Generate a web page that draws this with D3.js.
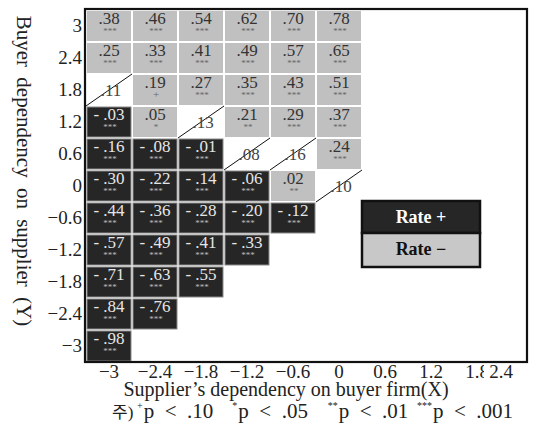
<!DOCTYPE html>
<html>
<head>
<meta charset="utf-8">
<script src="https://cdn.jsdelivr.net/npm/d3@7"></script>
<style>
  body { margin: 0; background: #fff; }
  text { font-family: "Liberation Serif", "Noto Sans CJK KR", serif; }
</style>
</head>
<body>
<script>
// categories
var xCats = [-3, -2.4, -1.8, -1.2, -0.6, 0];
var yCats = [3, 2.4, 1.8, 1.2, 0.6, 0, -0.6, -1.2, -1.8, -2.4, -3];
var xTicks = [-3, -2.4, -1.8, -1.2, -0.6, 0, 0.6, 1.2, 1.8, 2.4];

// rate per row (Y), one value per X column
var rates = [
  [.38, .46, .54, .62, .70, .78],
  [.25, .33, .41, .49, .57, .65],
  [.11, .19, .27, .35, .43, .51],
  [-.03, .05, .13, .21, .29, .37],
  [-.16, -.08, -.01, .08, .16, .24],
  [-.30, -.22, -.14, -.06, .02, .10],
  [-.44, -.36, -.28, -.20, -.12],
  [-.57, -.49, -.41, -.33],
  [-.71, -.63, -.55],
  [-.84, -.76],
  [-.98]
];
// significance marks ("" = not significant)
var stars = [
  ["***", "***", "***", "***", "***", "***"],
  ["***", "***", "***", "***", "***", "***"],
  ["", "+", "***", "***", "***", "***"],
  ["***", "*", "", "**", "***", "***"],
  ["***", "***", "***", "", "", "***"],
  ["***", "***", "***", "***", "**", ""],
  ["***", "***", "***", "***", "***"],
  ["***", "***", "***", "***"],
  ["***", "***", "***"],
  ["***", "***"],
  ["***"]
];
var legendItems = ["Rate +", "Rate \u2212"];
var noteMarks = ["+", "*", "**", "***"];
var noteTexts = ["p < .10", "p < .05", "p < .01", "p < .001"];

var W = 536, H = 424;
var frame = {left: 86, right: 527, top: 10, bottom: 362};

var svg = d3.select("body").append("svg")
  .attr("width", W).attr("height", H);

var step = (frame.bottom - frame.top) / yCats.length;   // row height
var y = d3.scaleLinear()
  .domain([3, -3])
  .range([frame.top + step / 2, frame.bottom - step / 2]);
var x = d3.scaleLinear()
  .domain([-3, 0])
  .range([109, 339]);
var cw = x(-2.4) - x(-3);   // column width

// flatten cells
var cells = [];
rates.forEach(function (row, i) {
  row.forEach(function (v, j) {
    cells.push({x: xCats[j], y: yCats[i], v: v, s: stars[i][j]});
  });
});

function fmt(v) {
  var s = d3.format(".2f")(Math.abs(v)).replace(/^0/, "");
  return v < 0 ? "- " + s : s;
}

var g = svg.append("g");
var cell = g.selectAll("g.cell").data(cells).enter().append("g").attr("class", "cell");

cell.append("rect")
  .attr("x", function (d) { return x(d.x) - cw / 2 + 1; })
  .attr("y", function (d) { return y(d.y) - step / 2 + 1; })
  .attr("width", cw - 2)
  .attr("height", step - 2)
  .attr("fill", function (d) { return d.s === "" ? "#fff" : (d.v > 0 ? "#c0c0c0" : "#262626"); })
  .attr("stroke", function (d) { return d.s !== "" && d.v <= 0 ? "#8a8a8a" : "none"; })
  .attr("stroke-width", 1);

// diagonal for non-significant cells
cell.filter(function (d) { return d.s === ""; })
  .append("line")
  .attr("x1", function (d) { return x(d.x) - cw / 2; })
  .attr("y1", function (d) { return y(d.y) + step / 2; })
  .attr("x2", function (d) { return x(d.x) + cw / 2; })
  .attr("y2", function (d) { return y(d.y) - step / 2; })
  .attr("stroke", "#111").attr("stroke-width", 1);

cell.append("text")
  .attr("x", function (d) { return x(d.x) + (d.s === "" ? 2 : 0); })
  .attr("y", function (d) { return d.s === "" ? y(d.y) + 6 : y(d.y) - 2; })
  .attr("text-anchor", "middle")
  .attr("font-size", 17)
  .attr("fill", function (d) { return d.s === "" ? "#444" : (d.v > 0 ? "#333" : "#e6e6e6"); })
  .text(function (d) { return fmt(d.v); });

cell.filter(function (d) { return d.s !== ""; })
  .append("text")
  .attr("x", function (d) { return x(d.x) + 1; })
  .attr("y", function (d) { return y(d.y) + 8; })
  .attr("text-anchor", "middle")
  .attr("font-size", function (d) { return d.s === "+" ? 11 : 9; })
  .attr("fill", function (d) { return d.v > 0 ? "#666" : "#bbb"; })
  .text(function (d) { return d.s; });

// frame
svg.append("rect")
  .attr("x", frame.left - 1).attr("y", frame.top - 1)
  .attr("width", frame.right - frame.left + 1)
  .attr("height", frame.bottom - frame.top + 1)
  .attr("fill", "none").attr("stroke", "#111").attr("stroke-width", 2.2);

// y tick labels
svg.selectAll("text.ytick").data(yCats).enter().append("text")
  .attr("class", "ytick")
  .attr("x", frame.left - 4)
  .attr("y", function (d) { return y(d) + 6; })
  .attr("text-anchor", "end")
  .attr("font-size", 19)
  .attr("fill", "#222")
  .text(function (d) { return d3.format("")(d); });

// x tick labels (last one pushed inside frame, with white backing)
var xt = svg.selectAll("g.xtick").data(xTicks).enter().append("g")
  .attr("class", "xtick")
  .attr("transform", function (d) {
    return "translate(" + Math.min(x(d), frame.right - 26) + "," + (frame.bottom + 16) + ")";
  });
xt.append("rect")
  .attr("x", -17).attr("y", -14).attr("width", 34).attr("height", 18)
  .attr("fill", "#fff");
xt.append("text")
  .attr("text-anchor", "middle")
  .attr("font-size", 19)
  .attr("fill", "#222")
  .text(function (d) { return d3.format("")(d); });

// axis titles
svg.append("text")
  .attr("x", 286).attr("y", 396)
  .attr("text-anchor", "middle")
  .attr("font-size", 20)
  .attr("fill", "#222")
  .text("Supplier\u2019s dependency on buyer firm(X)");

svg.append("text")
  .attr("transform", "translate(17,171) rotate(90)")
  .attr("text-anchor", "middle")
  .attr("font-size", 21)
  .attr("fill", "#222")
  .attr("word-spacing", 5)
  .text("Buyer dependency on supplier (Y)");

// note line
var noteX = d3.scalePoint().domain(noteTexts).range([137, 417]);
svg.append("text")
  .attr("x", 112).attr("y", 418)
  .attr("font-size", 17)
  .attr("fill", "#222")
  .text("\uC8FC)");
var ng = svg.selectAll("text.note").data(noteTexts).enter().append("text")
  .attr("class", "note")
  .attr("x", function (d, i) { return noteX(d) + (i === 3 ? 0 : i * 2); })
  .attr("y", 418)
  .attr("font-size", 21)
  .attr("fill", "#222")
  .style("white-space", "pre");
ng.append("tspan")
  .attr("font-size", 10).attr("dy", -9)
  .text(function (d, i) { return noteMarks[i]; });
ng.append("tspan")
  .attr("dy", 9)
  .attr("dx", 1)
  .text(function (d) { return d.replace(" < ", "  <  "); });

// legend
var leg = svg.append("g").attr("transform", "translate(362,201)");
leg.selectAll("rect.item").data(legendItems).enter().append("rect")
  .attr("class", "item")
  .attr("x", 0).attr("y", function (d, i) { return i * 32; })
  .attr("width", 118).attr("height", function (d, i) { return i === 0 ? 32 : 34; })
  .attr("fill", function (d, i) { return i === 0 ? "#262626" : "#c8c8c8"; })
  .attr("stroke", "#111").attr("stroke-width", 2.5);
leg.selectAll("text.lab").data(legendItems).enter().append("text")
  .attr("class", "lab")
  .attr("x", 59).attr("y", function (d, i) { return i * 32 + 22; })
  .attr("text-anchor", "middle")
  .attr("font-size", 18)
  .attr("font-weight", "bold")
  .attr("fill", function (d, i) { return i === 0 ? "#fff" : "#111"; })
  .text(function (d) { return d; });
</script>
</body>
</html>
